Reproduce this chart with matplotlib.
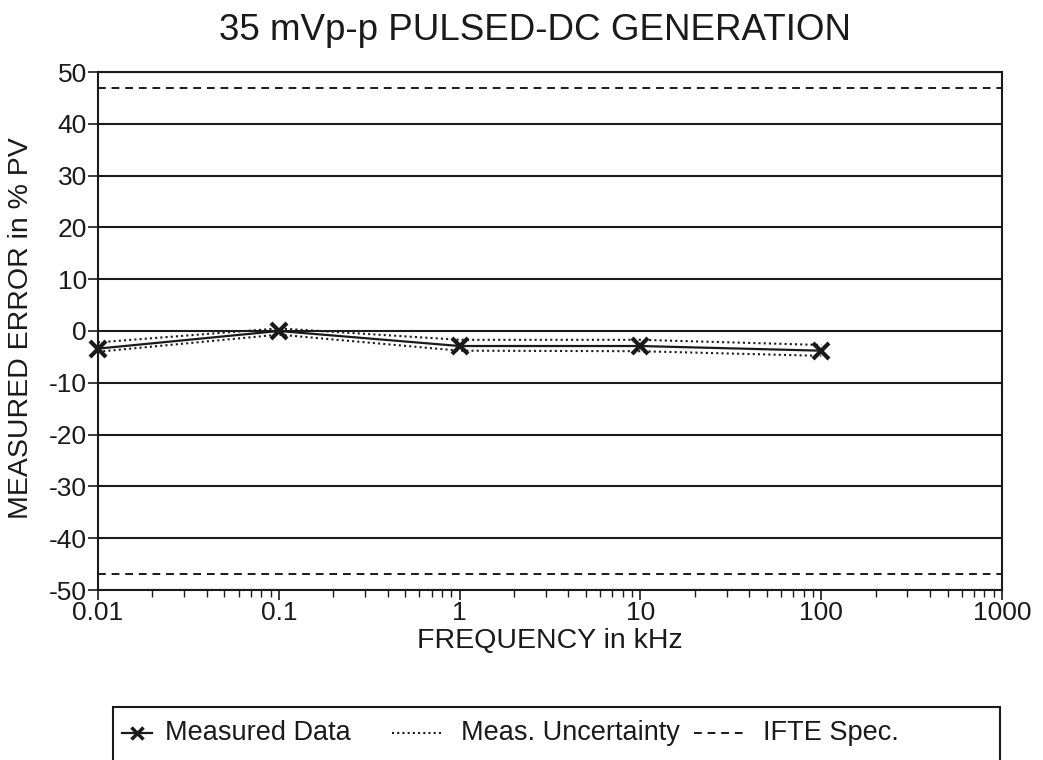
import matplotlib
matplotlib.use("Agg")
import matplotlib.pyplot as plt
from matplotlib.lines import Line2D
from matplotlib.patches import Rectangle
from matplotlib.ticker import FixedLocator, LogLocator, NullFormatter

plt.rcParams["font.family"] = ["Liberation Sans", "DejaVu Sans"]
plt.rcParams["axes.unicode_minus"] = False

# frequency points (kHz) and measured error (% of programmed value)
freq_khz = [0.01, 0.1, 1, 10, 100]
measured = [-3.4, 0.0, -2.9, -2.9, -3.8]
unc_upper = [-2.2, 0.5, -1.7, -1.7, -2.7]
unc_lower = [-4.0, -0.7, -3.8, -3.9, -4.8]
ifte_spec = 47.0

x_ticks = [0.01, 0.1, 1, 10, 100, 1000]
x_tick_labels = ["0.01", "0.1", "1", "10", "100", "1000"]
y_ticks = list(range(-50, 51, 10))

INK = "#1a1a1a"
DOT = (0, (1, 1.5))
DASH = (0, (4, 3))

fig = plt.figure(figsize=(10.43, 7.6), dpi=100)
W, H = 1043.0, 760.0
ax = fig.add_axes([98 / W, 1 - 590 / H, 904 / W, 518 / H])

ax.set_xscale("log")
ax.set_xlim(0.01, 1000)
ax.set_ylim(-50, 50)

# horizontal rules at every major y tick
for yv in y_ticks:
    ax.axhline(yv, color=INK, lw=1.5, zorder=1)

ax.axhline(ifte_spec, color=INK, lw=1.4, ls=DASH, zorder=2)
ax.axhline(-ifte_spec, color=INK, lw=1.4, ls=DASH, zorder=2)

ax.plot(freq_khz, unc_upper, color=INK, lw=1.5, ls=DOT, zorder=3)
ax.plot(freq_khz, unc_lower, color=INK, lw=1.5, ls=DOT, zorder=3)
ax.plot(freq_khz, measured, color=INK, lw=1.6, marker="x", ms=11, mew=3,
        zorder=4, clip_on=False)

ax.xaxis.set_major_locator(FixedLocator(x_ticks))
ax.set_xticklabels(x_tick_labels)
ax.xaxis.set_minor_locator(LogLocator(base=10, subs=range(2, 10)))
ax.xaxis.set_minor_formatter(NullFormatter())
ax.set_yticks(y_ticks)
ax.set_yticklabels([str(v) for v in y_ticks])

ax.tick_params(axis="both", which="major", direction="out", length=7, width=1.2,
               labelsize=19, colors=INK, pad=1)
ax.tick_params(axis="x", which="minor", direction="out", length=5, width=1.0,
               colors=INK)
for sp in ax.spines.values():
    sp.set_color(INK)
    sp.set_linewidth(1.5)

ax.set_xlabel("FREQUENCY in kHz", fontsize=20.5, color=INK, labelpad=2)
ax.set_ylabel("MEASURED ERROR in % PV", fontsize=20.5, color=INK)
ax.yaxis.set_label_coords(-0.071, 0.505)
fig.text(535 / W, 1 - 30 / H, "35 mVp-p PULSED-DC GENERATION", ha="center",
         va="center", fontsize=26.5, color=INK)

# legend box, running off the bottom edge of the page
fig.patches.append(Rectangle((113 / W, -0.02), (1000 - 113) / W, 0.02 + 1 - 707 / H,
                             transform=fig.transFigure, fill=False,
                             edgecolor=INK, lw=1.5))
row_y = 1 - 733 / H
legend_items = [
    ((122, 152), dict(lw=1.6, marker="x", ms=9, mew=2.5, markevery=[1]),
     165, "Measured Data"),
    ((392, 444), dict(lw=1.5, ls=DOT), 461, "Meas. Uncertainty"),
    ((694, 743), dict(lw=1.4, ls=DASH), 763, "IFTE Spec."),
]
for (x0, x1), style, tx, label in legend_items:
    xs = [x0 / W, (x0 + x1) / 2 / W, x1 / W]
    fig.add_artist(Line2D(xs, [row_y] * 3, color=INK, transform=fig.transFigure,
                          **style))
    fig.text(tx / W, row_y, label, ha="left", va="center", fontsize=19.5,
             color=INK)

fig.savefig("out.png", dpi=100, facecolor="white")
